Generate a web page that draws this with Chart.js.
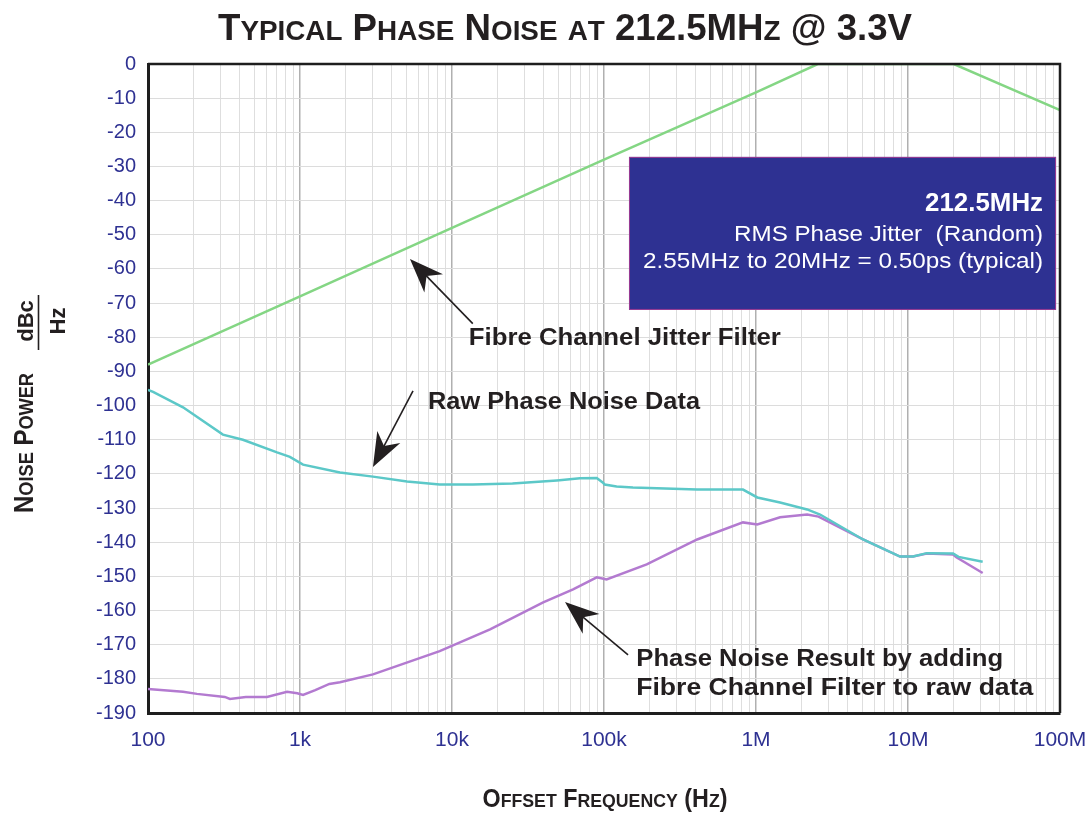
<!DOCTYPE html>
<html>
<head>
<meta charset="utf-8">
<script src="https://cdn.jsdelivr.net/npm/chart.js@4.4.0/dist/chart.umd.min.js"></script>
<style>
  html, body { margin: 0; padding: 0; background: #fff; }
</style>
</head>
<body>
<canvas id="myChart" width="1090" height="813"></canvas>
<script>
// values (offset frequency in Hz, noise in dBc/Hz)
const filterFreq = [100, 1000, 10000, 100000, 1000000, 2550000, 20000000, 100000000]
const filterDb = [-88, -68, -48, -28, -8.3, 0, 0, -13.5]

const rawFreq = [100, 108, 170, 311, 421, 706, 858, 1047, 1832, 3020, 5060, 8300, 13700, 25000, 49000,
    69500, 89600, 98000, 101000, 121000, 155000, 410000, 821000, 1020000, 1440000, 2170000, 2640000,
    5060000, 8860000, 10800000, 13300000, 19800000, 21500000, 31000000]
const rawDb = [-95.4, -96, -100.5, -108.5, -110, -113.7, -115, -117.3, -119.6, -120.8, -122.2, -123.1, -123.1, -122.8, -121.9,
    -121.3, -121.2, -122.5, -123.1, -123.7, -124, -124.6, -124.6, -126.9, -128.4, -130.4, -131.9,
    -139.2, -144.2, -144.2, -143.2, -143.3, -144.3, -145.7]

const resultFreq = [100, 170, 210, 320, 346, 440, 606, 822, 960, 1047, 1260, 1560, 1832, 3020, 8300, 17800, 39800,
    62600, 89600, 104000, 191000, 410000, 821000, 1020000, 1440000, 2170000, 2580000,
    5060000, 8860000, 10800000, 13300000, 19800000, 20800000, 31000000]
const resultDb = [-183, -183.8, -184.4, -185.3, -185.9, -185.3, -185.3, -183.8, -184.2, -184.7, -183.3, -181.5, -181, -178.7, -171.9, -165.5, -157.6,
    -153.8, -150.3, -150.9, -146.5, -139.2, -134.2, -134.8, -132.7, -131.9, -132.5,
    -139.2, -144.2, -144.2, -143.3, -143.6, -144.4, -149]

const xDecades = [100, 1000, 10000, 100000, 1000000, 10000000, 100000000]
const xTickLabels = ['100', '1k', '10k', '100k', '1M', '10M', '100M']

const boxLines = ['212.5MHz', 'RMS Phase Jitter  (Random)', '2.55MHz to 20MHz = 0.50ps (typical)']
const boxCorners = [[146000, -27.2], [94200000, -72]]

const noteTexts = ['Fibre Channel Jitter Filter', 'Raw Phase Noise Data', 'Phase Noise Result by adding', 'Fibre Channel Filter to raw data']
const notePos = [[12900, -80.5], [6950, -99.2], [163000, -174.5], [163000, -183]]
const noteWidths = [312, 272, 367, 397]
const arrowTails = [[13700, -76], [5540, -95.7], [144000, -173]]
const arrowTips = [[5290, -57.1], [3020, -118], [55400, -157.5]]

const blue = '#2e3192'
const ink = '#231f20'
const fontFam = '"Liberation Sans", Arial, sans-serif'

const pairs = (xs, ys) => xs.map((x, i) => ({ x: x, y: ys[i] }))

// gridlines at 1..9 of every decade
const xGrid = []
for (let d = 0; d < xDecades.length - 1; d++) {
    for (let m = 1; m <= 9; m++) xGrid.push(xDecades[d] * m)
}
xGrid.push(xDecades[xDecades.length - 1])

// lowercase letters drawn as small capitals, squeezed to a width
function smallCaps(ctx, text, x, y, size, width) {
    const runs = []
    for (const ch of text) {
        const small = ch !== ch.toUpperCase()
        runs.push({ ch: ch.toUpperCase(), size: small ? size * 0.76 : size })
    }
    let total = 0
    runs.forEach(r => {
        ctx.font = 'bold ' + r.size + 'px ' + fontFam
        r.w = ctx.measureText(r.ch).width
        total += r.w
    })
    const sx = width ? width / total : 1
    ctx.save()
    ctx.translate(x, y)
    ctx.scale(sx, 1)
    let pos = -total / 2
    ctx.textBaseline = 'alphabetic'
    ctx.textAlign = 'left'
    runs.forEach(r => {
        ctx.font = 'bold ' + r.size + 'px ' + fontFam
        ctx.fillText(r.ch, pos, 0)
        pos += r.w
    })
    ctx.restore()
}

function fitText(ctx, text, x, y, font, width, align) {
    ctx.font = font
    const w = ctx.measureText(text).width
    ctx.save()
    ctx.translate(x, y)
    ctx.scale(width / w, 1)
    ctx.textAlign = align
    ctx.fillText(text, 0, 0)
    ctx.restore()
}

function arrow(ctx, x1, y1, x2, y2) {
    const ang = Math.atan2(y2 - y1, x2 - x1)
    const len = 34, half = 13
    ctx.save()
    ctx.strokeStyle = ink
    ctx.fillStyle = ink
    ctx.lineWidth = 1.6
    ctx.beginPath()
    ctx.moveTo(x1, y1)
    ctx.lineTo(x2 - Math.cos(ang) * 20, y2 - Math.sin(ang) * 20)
    ctx.stroke()
    const bx = x2 - Math.cos(ang) * len, by = y2 - Math.sin(ang) * len
    const nx = x2 - Math.cos(ang) * len * 0.7, ny = y2 - Math.sin(ang) * len * 0.7
    ctx.beginPath()
    ctx.moveTo(x2, y2)
    ctx.lineTo(bx + Math.sin(ang) * half, by - Math.cos(ang) * half)
    ctx.lineTo(nx, ny)
    ctx.lineTo(bx - Math.sin(ang) * half, by + Math.cos(ang) * half)
    ctx.closePath()
    ctx.fill()
    ctx.restore()
}

const extras = {
    id: 'extras',
    beforeDraw(chart) {
        const ctx = chart.ctx
        ctx.save()
        ctx.fillStyle = '#ffffff'
        ctx.fillRect(0, 0, chart.width, chart.height)
        ctx.restore()
    },
    afterDraw(chart) {
        const ctx = chart.ctx
        const xs = chart.scales.x, ys = chart.scales.y
        const a = chart.chartArea
        const px = p => [xs.getPixelForValue(p[0]), ys.getPixelForValue(p[1])]

        // top and right frame
        ctx.save()
        ctx.strokeStyle = '#1e1e1e'
        ctx.lineWidth = 2.5
        ctx.beginPath()
        ctx.moveTo(a.left, a.top)
        ctx.lineTo(a.right, a.top)
        ctx.lineTo(a.right, a.bottom)
        ctx.stroke()
        ctx.restore()

        // jitter box
        const [bl, bt] = px(boxCorners[0])
        const [br, bb] = px(boxCorners[1])
        ctx.save()
        ctx.fillStyle = '#2e3192'
        ctx.fillRect(bl, bt, br - bl, bb - bt)
        ctx.strokeStyle = '#9a3c94'
        ctx.lineWidth = 1
        ctx.strokeRect(bl + 0.5, bt + 0.5, br - bl - 1, bb - bt - 1)
        ctx.fillStyle = '#ffffff'
        ctx.textBaseline = 'alphabetic'
        fitText(ctx, boxLines[0], br - 13, bt + 54, 'bold 25px ' + fontFam, 118, 'right')
        fitText(ctx, boxLines[1], br - 13, bt + 84, '22px ' + fontFam, 309, 'right')
        fitText(ctx, boxLines[2], br - 13, bt + 111, '22px ' + fontFam, 400, 'right')
        ctx.restore()

        // callouts
        arrowTails.forEach((t, i) => {
            const [x1, y1] = px(t)
            const [x2, y2] = px(arrowTips[i])
            arrow(ctx, x1, y1, x2, y2)
        })
        ctx.save()
        ctx.fillStyle = ink
        ctx.textBaseline = 'middle'
        noteTexts.forEach((s, i) => {
            const [x, y] = px(notePos[i])
            fitText(ctx, s, x, y, 'bold 23px ' + fontFam, noteWidths[i], 'left')
        })
        ctx.restore()

        // titles
        ctx.save()
        ctx.fillStyle = ink
        smallCaps(ctx, 'Typical Phase Noise at 212.5MHz @ 3.3V', 565, 40, 37, 694)
        smallCaps(ctx, 'Offset Frequency (Hz)', 605, 807, 25, 245)
        ctx.translate(33, 443)
        ctx.rotate(-Math.PI / 2)
        smallCaps(ctx, 'Noise Power', 0, 0, 27, 140)
        ctx.restore()

        // dBc / Hz fraction
        ctx.save()
        ctx.strokeStyle = ink
        ctx.lineWidth = 1.6
        ctx.beginPath()
        ctx.moveTo(38.5, 295)
        ctx.lineTo(38.5, 350)
        ctx.stroke()
        ctx.fillStyle = ink
        ctx.font = 'bold 22px ' + fontFam
        ctx.textAlign = 'center'
        ctx.save()
        ctx.translate(33, 321)
        ctx.rotate(-Math.PI / 2)
        ctx.fillText('dBc', 0, 0)
        ctx.restore()
        ctx.translate(65, 321)
        ctx.rotate(-Math.PI / 2)
        ctx.fillText('Hz', 0, 0)
        ctx.restore()
    }
}

const myChart = new Chart(document.getElementById('myChart'), {
    type: 'line',
    data: {
        datasets: [
            {
                label: 'Raw Phase Noise Data',
                data: pairs(rawFreq, rawDb),
                borderColor: '#5cc8c8',
                borderWidth: 2.5
            },
            {
                label: 'Phase Noise Result',
                data: pairs(resultFreq, resultDb),
                borderColor: '#b37ad0',
                borderWidth: 2.5
            },
            {
                label: 'Fibre Channel Jitter Filter',
                data: pairs(filterFreq, filterDb),
                borderColor: '#84d684',
                borderWidth: 2.5
            }
        ]
    },
    options: {
        responsive: false,
        animation: false,
        elements: { point: { radius: 0 }, line: { tension: 0 } },
        layout: { padding: { left: 0, right: 30, top: 64, bottom: 0 } },
        plugins: {
            legend: { display: false },
            title: { display: false },
            tooltip: { enabled: false }
        },
        scales: {
            x: {
                type: 'logarithmic',
                min: 100,
                max: 100000000,
                afterBuildTicks: scale => {
                    scale.ticks = xGrid.map(v => ({ value: v }))
                },
                afterFit: scale => {
                    scale.height = 100
                    scale.paddingLeft = 0
                    scale.paddingRight = 0
                },
                ticks: {
                    autoSkip: false,
                    maxRotation: 0,
                    color: blue,
                    padding: 15,
                    font: { family: fontFam, size: 21 },
                    callback: v => {
                        const i = xDecades.indexOf(v)
                        return i >= 0 ? xTickLabels[i] : ''
                    }
                },
                grid: {
                    drawTicks: false,
                    color: c => (c.tick && xDecades.includes(c.tick.value)) ? '#b0b0b0' : '#dedede',
                    lineWidth: c => (c.tick && xDecades.includes(c.tick.value)) ? 1.5 : 1
                },
                border: { color: '#1e1e1e', width: 3 }
            },
            y: {
                type: 'linear',
                min: -190,
                max: 0,
                afterFit: scale => {
                    scale.width = 148
                    scale.paddingTop = 0
                    scale.paddingBottom = 0
                },
                ticks: {
                    stepSize: 10,
                    color: blue,
                    padding: 12,
                    font: { family: fontFam, size: 20 }
                },
                grid: { drawTicks: false, color: '#dcdcdc' },
                border: { color: '#1e1e1e', width: 3 }
            }
        }
    },
    plugins: [extras]
})
</script>
</body>
</html>
